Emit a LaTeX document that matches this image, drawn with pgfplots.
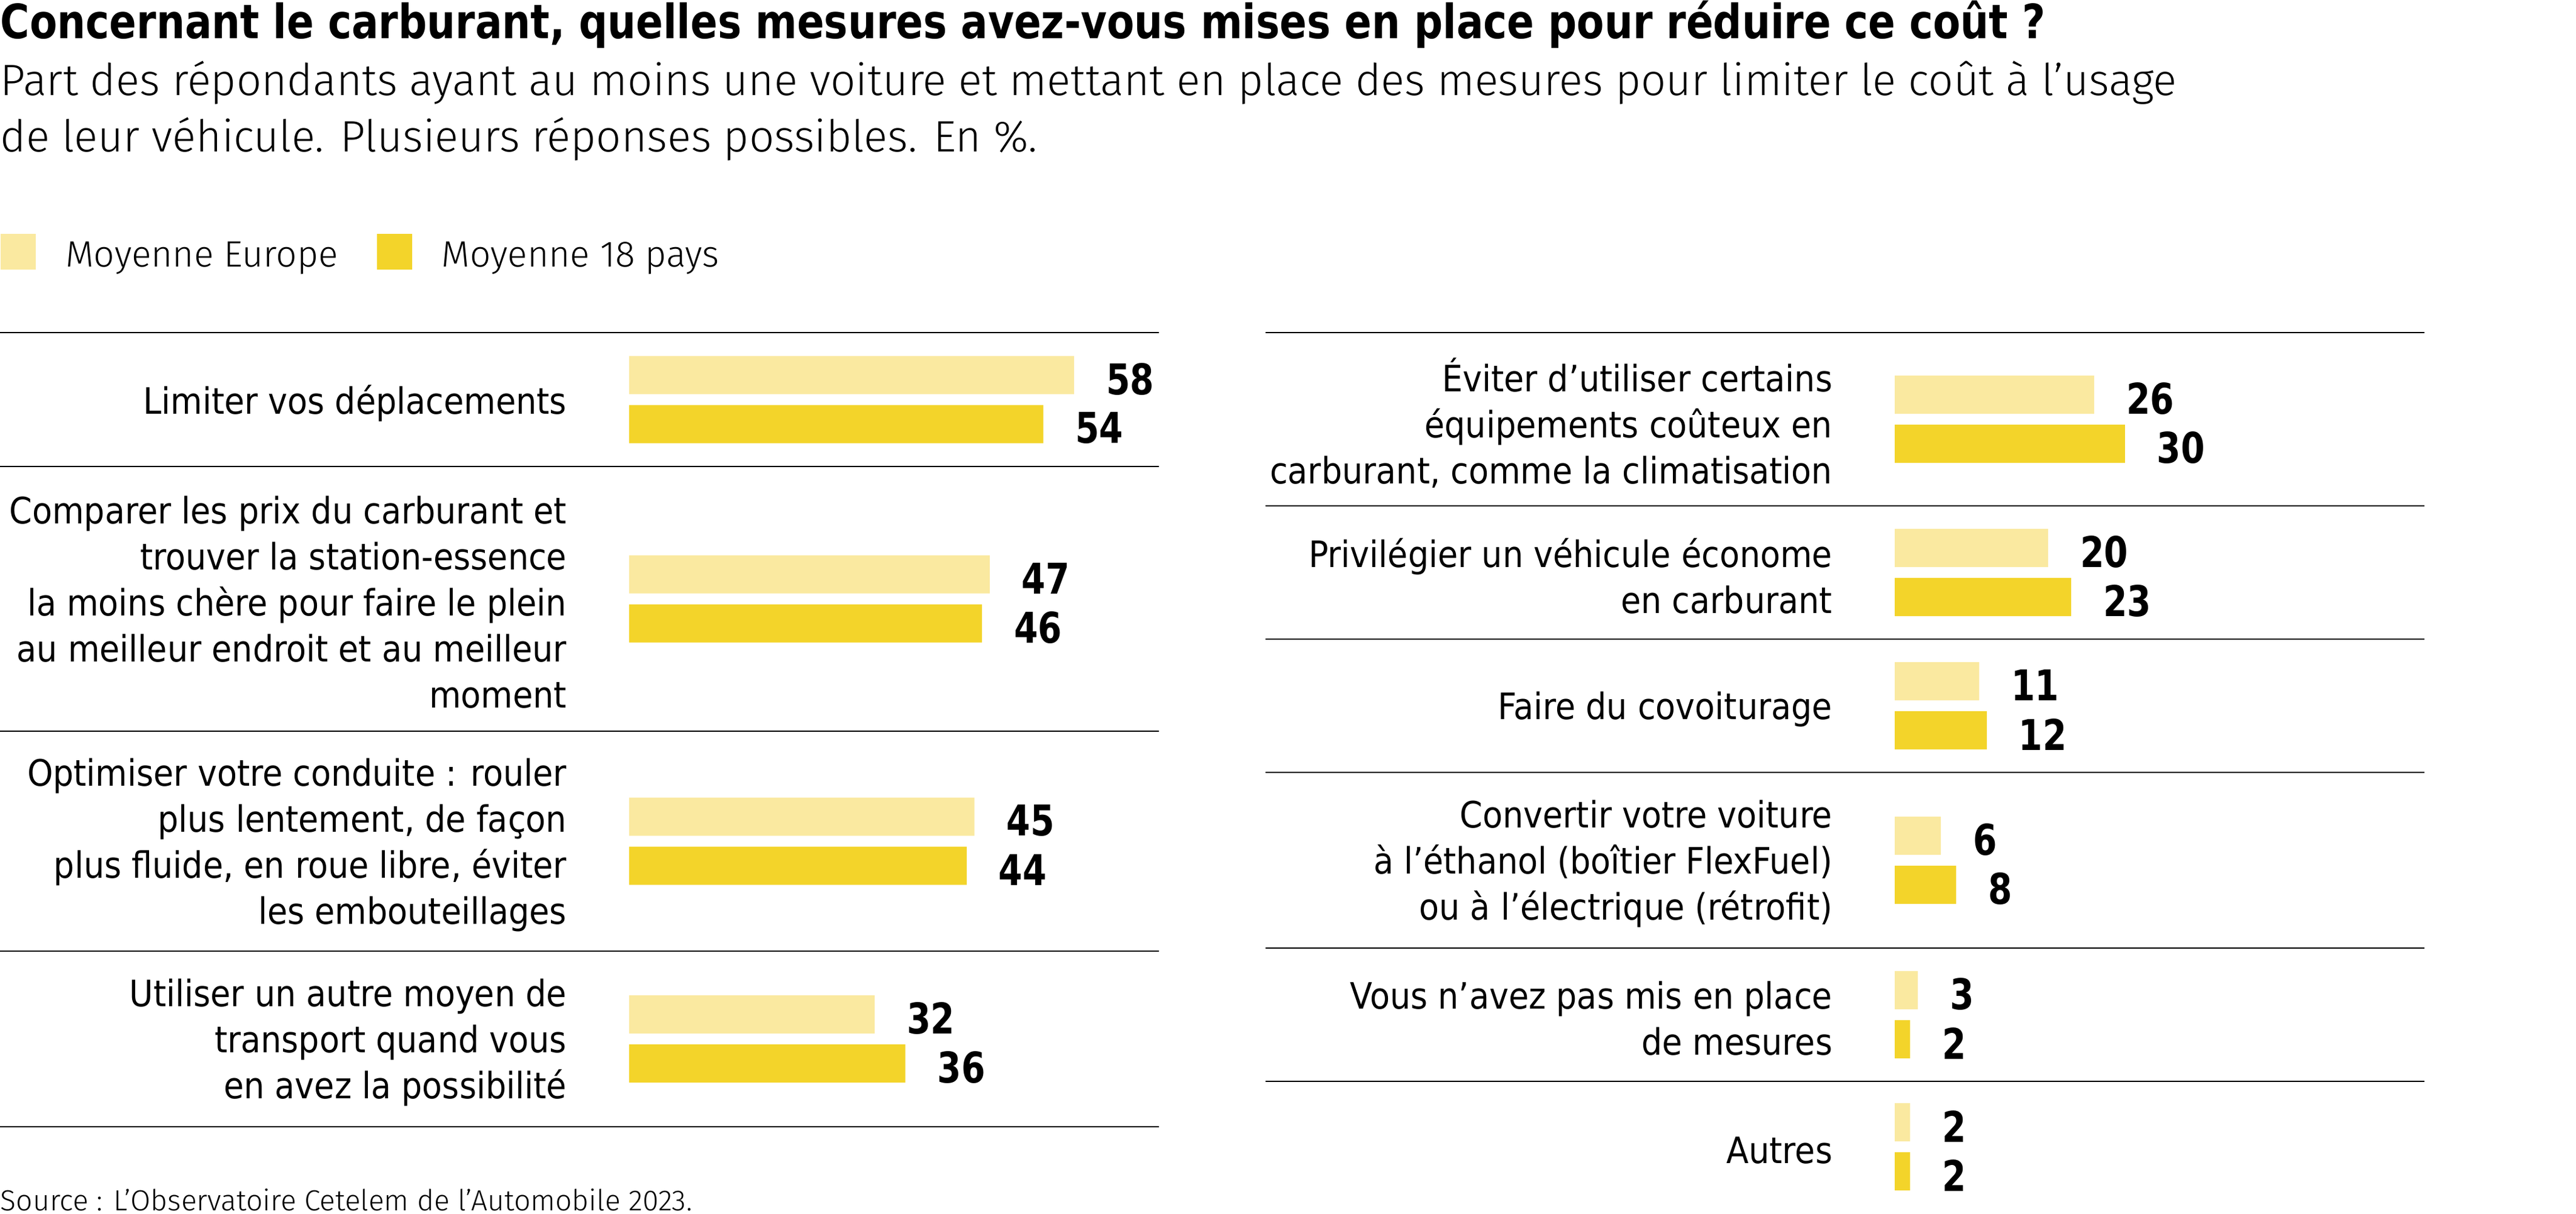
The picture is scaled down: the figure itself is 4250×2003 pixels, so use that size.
\documentclass[border=0pt]{standalone}
\usepackage{fontspec}
\setmainfont{DejaVu Sans Condensed}
\newfontfamily\titlefont{DejaVu Sans Condensed}[FakeStretch=0.94]
\newfontfamily\valfont{DejaVu Sans Condensed}[FakeStretch=0.9]
\newfontfamily\lightfont{Fira Sans Light}
\usepackage{pgfplots}
\usepackage{pgfplotstable}
\pgfplotsset{compat=1.18}

\definecolor{europe}{HTML}{FAE9A0}
\definecolor{pays}{HTML}{F3D42A}

% pos = centre of the group (picture pixels, from top)
\pgfplotstableread{
pos    eu pays
659.5  58 54
988.5  47 46
1388.5 45 44
1715   32 36
}\gauche
\pgfplotstableread{
pos  eu pays
692  26 30
945  20 23
1165 11 12
1420 6  8
1675 3  2
1893 2  2
}\droite

\pgfplotsset{
  panel/.style={
    scale only axis, width=382.4pt,
    xmin=-82.02, xmax=69.06,
    y dir=reverse, anchor=north west, clip=false,
    axis line style={draw=none}, xtick=\empty, ytick=\empty,
    extra y tick style={grid=major, major tick length=0pt,
      major grid style={black, line width=0.55pt}},
    extra y tick labels={},
    xbar, bar width=12.6pt,
    /pgf/number format/assume math mode=true,
    nodes near coords,
    nodes near coords style={anchor=west, inner sep=0pt, xshift=10.4pt, yshift=-1.3pt,
      font=\valfont\bfseries\fontsize{14}{14}\selectfont},
  },
}
\tikzset{
  lab/.style={anchor=east, align=right, inner sep=0pt, yshift=-1.2pt,
    font=\fontsize{12}{15.2}\selectfont},
}

\begin{document}
\begin{tikzpicture}[x=0.2pt, y=-0.2pt]
\path[use as bounding box] (0,0) rectangle (4250,2003);

\begin{axis}[panel, at={(0pt,-109.8pt)}, height=262.2pt, ymin=549, ymax=1860,
    extra y ticks={549,770,1207,1570,1860},
    legend columns=2,
    legend image code/.code={\fill[#1] (0pt,-4.4pt) rectangle (11.6pt,7.4pt);},
    legend style={at={(axis description cs:0,1)}, anchor=south west, yshift=20.1pt,
      draw=none, fill=none, inner sep=0pt, nodes={inner sep=0pt},
      font=\lightfont\fontsize{12.1}{12.1}\selectfont,
      /tikz/every odd column/.append style={column sep=9.8pt},
      /tikz/every even column/.append style={column sep=12.8pt}},
  ]
  \addplot[fill=europe, draw=none, bar shift=8.1pt] table[x=eu, y=pos] {\gauche};
  \addplot[fill=pays, draw=none, bar shift=-8.1pt] table[x=pays, y=pos] {\gauche};
  \legend{Moyenne Europe, Moyenne 18 pays}
  \node[lab] at (axis cs:-8.06,659.5) {Limiter vos déplacements};
  \node[lab] at (axis cs:-8.06,988.5) {Comparer les prix du carburant et\\trouver la station-essence\\la moins chère pour faire le plein\\au meilleur endroit et au meilleur\\moment};
  \node[lab] at (axis cs:-8.06,1388.5) {Optimiser votre conduite : rouler\\plus lentement, de façon\\plus fluide, en roue libre, éviter\\les embouteillages};
  \node[lab] at (axis cs:-8.06,1715) {Utiliser un autre moyen de\\transport quand vous\\en avez la possibilité};
\end{axis}

\begin{axis}[panel, at={(417.6pt,-109.8pt)}, height=291.2pt, ymin=549, ymax=2005,
    extra y ticks={549,835,1055,1275,1565,1785},
  ]
  \addplot[fill=europe, draw=none, bar shift=8.1pt] table[x=eu, y=pos] {\droite};
  \addplot[fill=pays, draw=none, bar shift=-8.1pt] table[x=pays, y=pos] {\droite};
  \node[lab] at (axis cs:-8.06,692) {Éviter d’utiliser certains\\équipements coûteux en\\carburant, comme la climatisation};
  \node[lab] at (axis cs:-8.06,945) {Privilégier un véhicule économe\\en carburant};
  \node[lab] at (axis cs:-8.06,1165) {Faire du covoiturage};
  \node[lab] at (axis cs:-8.06,1420) {Convertir votre voiture\\à l’éthanol (boîtier FlexFuel)\\ou à l’électrique (rétrofit)};
  \node[lab] at (axis cs:-8.06,1675) {Vous n’avez pas mis en place\\de mesures};
  \node[lab] at (axis cs:-8.06,1893) {Autres};
\end{axis}

\node[anchor=base west, inner sep=0pt, font=\titlefont\bfseries\fontsize{15.6}{15.6}\selectfont]
  at (0,63) {Concernant le carburant, quelles mesures avez-vous mises en place pour réduire ce coût ?};
\node[anchor=base west, inner sep=0pt, font=\lightfont\fontsize{14.5}{14.5}\selectfont]
  at (0,157) {Part des répondants ayant au moins une voiture et mettant en place des mesures pour limiter le coût à l’usage};
\node[anchor=base west, inner sep=0pt, font=\lightfont\fontsize{14.5}{14.5}\selectfont]
  at (0,250) {de leur véhicule. Plusieurs réponses possibles. En \%.};
\node[anchor=base west, inner sep=0pt, font=\lightfont\fontsize{9.6}{9.6}\selectfont]
  at (0,1998) {Source : L’Observatoire Cetelem de l’Automobile 2023.};
\end{tikzpicture}
\end{document}
